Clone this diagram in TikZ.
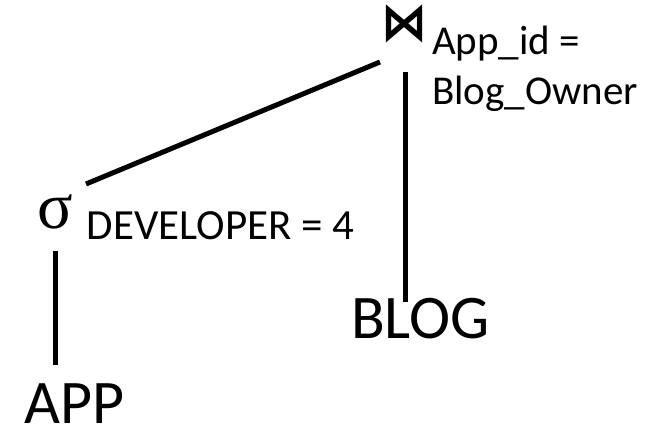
\documentclass[tikz,border=0pt]{standalone}
\usepackage{fontspec}
\setmainfont{Carlito}
\newfontfamily\greekfont{Liberation Serif}
\newfontfamily\symfont{DejaVu Sans}
\usetikzlibrary{positioning}

\tikzset{
    edge/.style={line width=5pt},
    rel/.style={inner sep=0pt, anchor=base west, font=\fontsize{62}{62}\selectfont},
    cond/.style={inner sep=0pt, anchor=base west, font=\fontsize{41}{50}\selectfont},
}

\begin{document}
\begin{tikzpicture}[x=1pt,y=1pt]
    \useasboundingbox (0,0) rectangle (661,430);
    % operators
    \node[anchor=base,inner sep=0pt,font=\symfont\bfseries\fontsize{46}{46}\selectfont](join) at (404,389){\scalebox{1}[1.15]{⋈}};
    \node[anchor=base,inner sep=0pt,font=\greekfont\fontsize{66}{66}\selectfont](sel) at (55.5,201){σ};
    % conditions
    \node[cond](cond1) at (432,375){App\_id =};
    \node[cond](cond2) at (432,325){Blog\_Owner};
    \node[cond,font=\fontsize{43}{50}\selectfont](cond3) at (86.5,190){DEVELOPER = 4};
    % relations
    \node[rel](blog) at (351,91){BLOG};
    \node[rel](app) at (24,6){APP};
    % tree edges
    \draw[edge]([shift={(-24,-21)}]join.base) -- ([shift={(30.5,45)}]sel.base);
    \draw[edge]([shift={(1,-31)}]join.base) -- ([shift={(54,37)}]blog.base west);
    \draw[edge]([shift={(0,-22)}]sel.base) -- ([shift={(31.5,59)}]app.base west);
\end{tikzpicture}
\end{document}
